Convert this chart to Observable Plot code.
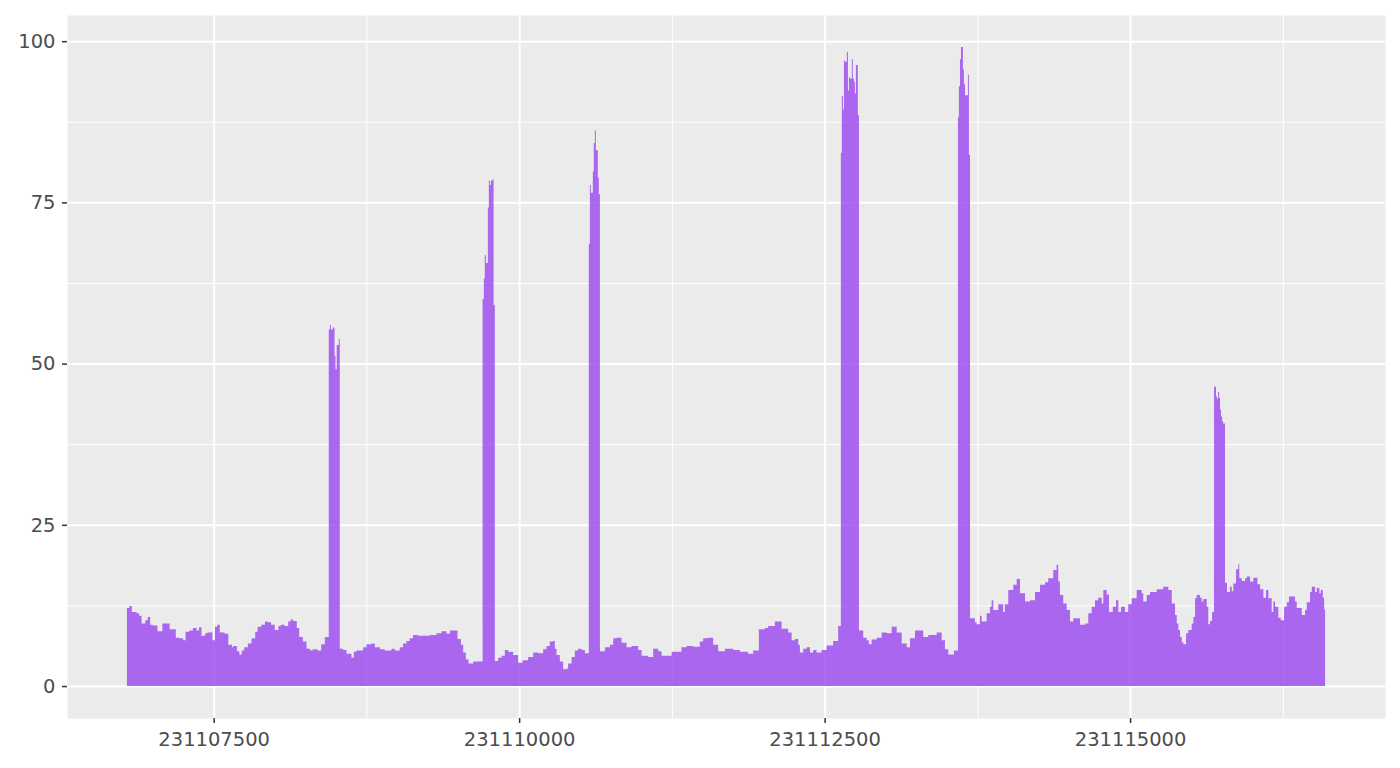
<!DOCTYPE html>
<html><head><meta charset="utf-8">
<script src="https://cdn.jsdelivr.net/npm/d3@7"></script>
<script src="https://cdn.jsdelivr.net/npm/@observablehq/plot@0.6"></script>
<style>body{margin:0;background:#fff} svg{display:block}</style>
</head><body><div id="chart"></div>
<script>
// Genomic start position of each coverage step (bp) and its read depth
const positions = [
231106790,231106810,231106830,231106870,231106890,231106910,231106940,231106960,231106980,231107000,
231107040,231107080,231107140,231107190,231107220,231107250,231107270,231107300,231107330,231107360,
231107380,231107400,231107430,231107450,231107490,231107510,231107530,231107550,231107590,231107620,
231107650,231107660,231107690,231107710,231107730,231107750,231107780,231107810,231107840,231107860,
231107890,231107920,231107940,231107970,231108000,231108030,231108050,231108080,231108110,231108130,
231108150,231108180,231108200,231108230,231108260,231108290,231108310,231108350,231108380,231108410,
231108442,231108452,231108460,231108475,231108489,231108497,231108507,231108524,231108532,231108559,
231108587,231108628,231108647,231108669,231108723,231108751,231108792,231108819,231108860,231108900,
231108955,231108982,231109023,231109050,231109078,231109105,231109132,231109173,231109269,231109324,
231109365,231109406,231109433,231109496,231109523,231109542,231109564,231109586,231109624,231109701,
231109711,231109719,231109728,231109744,231109752,231109760,231109769,231109785,231109791,231109801,
231109828,231109856,231109883,231109910,231109951,231109992,231110028,231110074,231110115,231110156,
231110197,231110224,231110251,231110279,231110292,231110306,231110333,231110360,231110382,231110401,
231110429,231110456,231110483,231110511,231110538,231110570,231110579,231110587,231110603,231110611,
231110620,231110628,231110644,231110652,231110661,231110702,231110743,231110770,231110797,231110838,
231110879,231110920,231110974,231111002,231111056,231111097,231111138,231111166,231111248,231111329,
231111370,231111424,231111479,231111506,231111547,231111588,231111629,231111684,231111752,231111807,
231111874,231111915,231111962,231112011,231112038,231112093,231112148,231112202,231112230,231112257,
231112284,231112298,231112325,231112353,231112380,231112407,231112434,231112475,231112516,231112570,
231112611,231112633,231112641,231112650,231112658,231112666,231112682,231112691,231112699,231112707,
231112723,231112731,231112740,231112748,231112756,231112772,231112781,231112816,231112844,231112862,
231112885,231112926,231112967,231113008,231113049,231113090,231113131,231113172,231113199,231113240,
231113307,231113348,231113417,231113458,231113485,231113512,231113558,231113591,231113599,231113608,
231113616,231113632,231113640,231113649,231113673,231113681,231113690,231113730,231113744,231113771,
231113785,231113826,231113853,231113867,231113880,231113921,231113962,231113976,231114003,231114044,
231114072,231114099,231114140,231114181,231114222,231114263,231114304,231114330,231114371,231114399,
231114412,231114426,231114453,231114481,231114508,231114535,231114590,231114631,231114658,231114686,
231114713,231114740,231114768,231114781,231114808,231114827,231114858,231114885,231114904,231114926,
231114958,231114985,231115013,231115054,231115095,231115108,231115136,231115163,231115218,231115272,
231115313,231115341,231115368,231115382,231115395,231115409,231115423,231115436,231115458,231115477,
231115504,231115518,231115532,231115545,231115572,231115586,231115599,231115627,231115640,231115654,
231115671,231115687,231115703,231115712,231115720,231115728,231115736,231115744,231115753,231115761,
231115777,231115793,231115818,231115832,231115845,231115867,231115886,231115894,231115914,231115941,
231115955,231115982,231116009,231116042,231116064,231116091,231116113,231116132,231116159,231116172,
231116186,231116213,231116233,231116260,231116282,231116301,231116350,231116364,231116405,231116432,
231116446,231116473,231116487,231116514,231116528,231116549,231116561,231116577,231116588
];
const coverage = [
12.1,12.4,11.5,11.3,10.9,9.7,10.2,10.7,9.5,9.4,
8.5,9.7,8.8,7.5,7.4,7.1,8.4,8.6,9.0,8.6,
9.1,7.8,8.2,8.3,7.1,9.2,9.5,8.3,8.1,6.4,
6.0,6.2,5.4,4.9,5.5,6.0,6.6,7.4,8.4,9.2,
9.5,10.0,9.9,9.5,8.7,9.3,9.5,9.3,10.0,10.3,
10.1,9.0,7.6,6.9,5.8,5.5,5.7,5.5,6.5,7.6,
55.3,56.0,55.3,55.6,51.2,49.1,52.9,53.8,5.8,5.6,
5.0,4.4,5.3,5.5,6.0,6.5,6.6,6.0,5.7,5.5,
5.8,5.5,6.0,6.6,7.0,7.4,7.9,7.8,7.9,8.2,
8.5,8.1,8.6,7.3,6.4,5.2,4.1,3.5,3.8,60.0,
63.2,66.8,65.6,74.2,78.4,77.7,78.4,78.6,59.1,3.9,
4.4,4.7,5.6,5.3,4.8,3.6,4.0,4.5,5.2,5.1,
5.7,6.2,6.9,7.0,5.8,4.8,3.8,2.6,2.7,3.5,
4.5,5.5,5.8,5.6,5.1,68.5,77.7,76.5,79.8,84.2,
86.2,83.1,78.8,76.3,5.4,6.0,6.4,7.4,7.5,6.7,
6.0,6.2,5.6,4.7,4.5,5.8,5.4,4.7,5.3,6.0,
6.2,6.1,6.9,7.4,7.5,6.4,5.4,5.8,5.6,5.3,
5.0,5.5,8.8,9.0,9.3,10.0,8.9,8.3,7.1,7.3,
6.4,5.2,5.8,6.0,5.2,5.6,5.2,5.6,6.3,7.0,
9.3,82.7,91.5,89.4,97.0,96.8,98.3,92.3,94.4,94.2,
97.2,94.2,93.7,91.9,96.3,88.5,8.6,7.5,7.1,6.5,
7.2,7.5,8.3,8.2,9.2,8.3,6.6,6.0,7.4,8.6,
7.6,7.9,8.3,7.1,5.7,4.9,5.5,88.2,93.0,97.2,
99.1,95.6,93.3,91.6,94.8,82.4,10.5,9.9,9.6,10.9,
10.0,11.3,12.3,13.3,11.8,12.7,11.5,12.7,14.9,15.7,
16.6,14.4,13.1,13.3,14.6,15.7,16.1,16.7,18.0,18.8,
16.2,14.1,12.8,11.8,10.0,10.5,9.5,9.7,11.3,12.3,
13.3,13.7,12.8,14.9,14.2,11.5,12.3,13.3,11.5,12.3,
11.5,12.7,13.6,14.9,14.4,13.1,14.1,14.6,15.0,15.4,
14.9,12.8,11.0,9.7,8.7,7.6,6.8,6.5,8.2,8.7,
9.7,10.7,13.6,14.1,13.7,13.1,13.5,12.3,9.6,10.1,
11.5,46.4,44.9,44.5,45.6,44.7,42.9,41.8,41.1,40.7,
16.0,14.6,15.4,14.7,15.9,18.1,18.9,16.7,16.3,16.7,
17.0,16.2,16.8,15.8,15.0,13.7,14.9,13.6,11.5,13.1,
12.3,10.6,10.2,12.3,13.0,13.9,13.1,12.1,11.0,11.8,
13.0,14.6,15.4,14.6,15.2,14.4,14.9,13.7,11.9
];
const regionEnd = 231116596;

const xMajorTicks = [231107500, 231110000, 231112500, 231115000];
const xMinorTicks = [231108750, 231111250, 231113750, 231116250];
const yMajorTicks = [0, 25, 50, 75, 100];
const yMinorTicks = [12.5, 37.5, 62.5, 87.5];

const rows = positions.map((p, i) => ({pos: p, cov: coverage[i]}));
rows.push({pos: regionEnd, cov: coverage[coverage.length - 1]});

const xMin = positions[0], xMax = regionEnd;
const xPad = (xMax - xMin) * 0.05;
const yMax = d3.max(coverage);
const yPad = yMax * 0.05;

const font = "'DejaVu Sans', Verdana, sans-serif";

const chart = Plot.plot({
  width: 1400,
  height: 768,
  marginLeft: 67,
  marginRight: 15,
  marginTop: 15,
  marginBottom: 50,
  x: {domain: [xMin - xPad, xMax + xPad]},
  y: {domain: [-yPad, yMax + yPad]},
  style: {fontFamily: font, background: "#ffffff", overflow: "visible"},
  marks: [
    Plot.frame({fill: "#EBEBEB", stroke: "none"}),
    Plot.gridX(xMinorTicks, {stroke: "#ffffff", strokeOpacity: 1, strokeWidth: 1}),
    Plot.gridY(yMinorTicks, {stroke: "#ffffff", strokeOpacity: 1, strokeWidth: 1}),
    Plot.gridX(xMajorTicks, {stroke: "#ffffff", strokeOpacity: 1, strokeWidth: 2}),
    Plot.gridY(yMajorTicks, {stroke: "#ffffff", strokeOpacity: 1, strokeWidth: 2}),
    Plot.areaY(rows, {x: "pos", y: "cov", curve: "step-after", fill: "#9A45EF", fillOpacity: 0.8}),
    Plot.axisX(xMajorTicks, {tickFormat: "d", tickSize: 5, tickPadding: 9, fontSize: 19.5,
      stroke: "#333333", fill: "#4D4D4D", strokeWidth: 1.5, label: null}),
    Plot.axisY(yMajorTicks, {tickFormat: "d", tickSize: 5, tickPadding: 7, fontSize: 19.5,
      stroke: "#333333", fill: "#4D4D4D", strokeWidth: 1.5, label: null})
  ]
});
document.getElementById("chart").appendChild(chart);
</script>
</body></html>
